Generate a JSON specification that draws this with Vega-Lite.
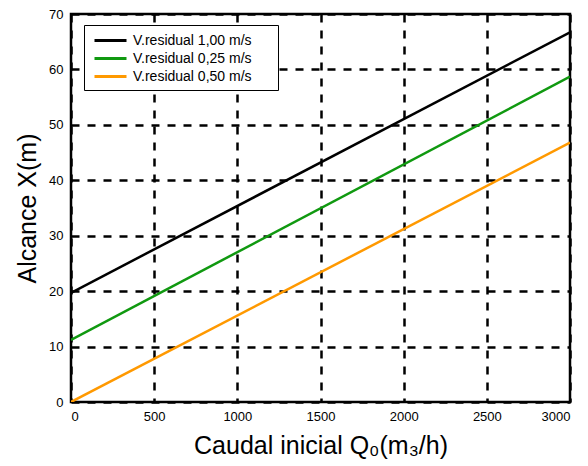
{
  "$schema": "https://vega.github.io/schema/vega-lite/v6.json",
  "autosize": "none",
  "width": 499,
  "height": 388,
  "padding": {"left": 71, "top": 14, "right": 18, "bottom": 64},
  "background": "white",
  "config": {
    "font": "Liberation Sans",
    "view": {"stroke": "black", "strokeWidth": 2.5},
    "axis": {
      "domain": false,
      "ticks": false,
      "grid": true,
      "gridColor": "black",
      "gridOpacity": 1,
      "gridWidth": 2.5,
      "gridDash": [8, 8],
      "labelFont": "Liberation Sans",
      "labelFontSize": 13,
      "labelColor": "black",
      "titleFont": "Liberation Sans",
      "titleFontWeight": "normal",
      "titleFontSize": 25,
      "titleColor": "black"
    }
  },
  "data": {
    "values": [
      {"q": 0, "x": 19.7, "serie": "V.residual 1,00 m/s"},
      {"q": 3000, "x": 66.7, "serie": "V.residual 1,00 m/s"},
      {"q": 0, "x": 11.2, "serie": "V.residual 0,25 m/s"},
      {"q": 3000, "x": 58.7, "serie": "V.residual 0,25 m/s"},
      {"q": 0, "x": 0, "serie": "V.residual 0,50 m/s"},
      {"q": 3000, "x": 46.8, "serie": "V.residual 0,50 m/s"}
    ]
  },
  "mark": {"type": "line", "strokeWidth": 2.5, "clip": true},
  "encoding": {
    "x": {
      "field": "q",
      "type": "quantitative",
      "scale": {"domain": [0, 3000], "nice": false},
      "axis": {"values": [0, 500, 1000, 1500, 2000, 2500, 3000], "format": "d", "labelPadding": 8, "title": "Caudal inicial Q₀(m₃/h)", "titlePadding": 10}
    },
    "y": {
      "field": "x",
      "type": "quantitative",
      "scale": {"domain": [0, 70], "nice": false},
      "axis": {"values": [0, 10, 20, 30, 40, 50, 60, 70], "labelPadding": 8, "title": "Alcance X(m)", "titlePadding": 8}
    },
    "color": {
      "field": "serie",
      "type": "nominal",
      "scale": {
        "domain": ["V.residual 1,00 m/s", "V.residual 0,25 m/s", "V.residual 0,50 m/s"],
        "range": ["#000000", "#109910", "#ff9900"]
      },
      "legend": {
        "title": null,
        "orient": "none",
        "legendX": 13,
        "legendY": 11,
        "symbolType": "M-0.625,0H3.375",
        "symbolSize": 256,
        "symbolStrokeWidth": 3,
        "labelFontSize": 14,
        "labelFont": "Liberation Sans",
        "labelColor": "black",
        "labelExpr": "datum.label + '\u2800\u2800'",
        "labelLimit": 300,
        "strokeColor": "black",
        "fillColor": "white",
        "padding": 6,
        "rowPadding": 1,
        "labelOffset": 24
      }
    }
  }
}
